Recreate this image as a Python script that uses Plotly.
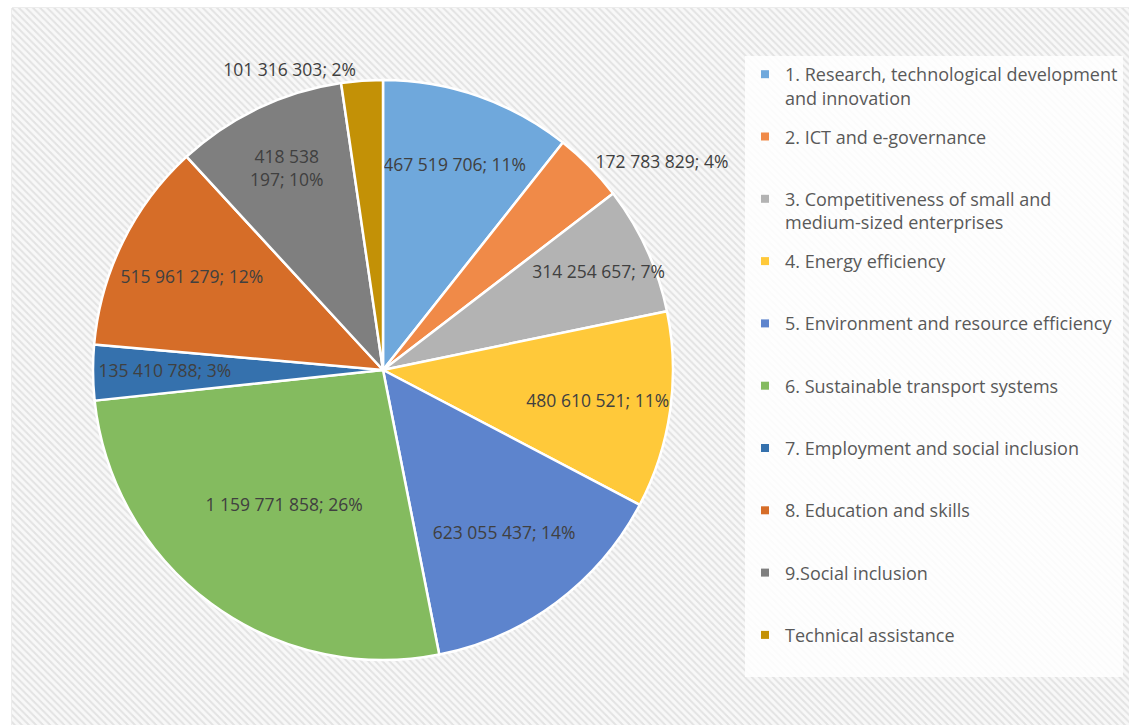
import plotly.graph_objects as go

# Allocation by thematic objective (EUR)
categories = [
    "1. Research, technological development<br>and innovation",
    "2. ICT and e-governance",
    "3. Competitiveness of small and<br>medium-sized enterprises",
    "4. Energy efficiency",
    "5. Environment and resource efficiency",
    "6. Sustainable transport systems",
    "7. Employment and social inclusion",
    "8. Education and skills",
    "9.Social inclusion",
    "Technical assistance",
]
amounts = [
    467519706,
    172783829,
    314254657,
    480610521,
    623055437,
    1159771858,
    135410788,
    515961279,
    418538197,
    101316303,
]
slice_colors = [
    "#6fa8dc", "#f08a48", "#b3b3b3", "#ffc93a", "#5d84cd",
    "#84bb5f", "#3571ad", "#d66d28", "#7f7f7f", "#c39106",
]
label_positions = [
    "inside", "outside", "inside", "inside", "inside",
    "inside", "inside", "inside", "inside", "outside",
]
# labels that break onto a second line after the given group count
label_breaks = {8: 2}

total = sum(amounts)


def fmt_label(i, v):
    groups = f"{v:,}".split(",")
    pct = round(v / total * 100)
    if i in label_breaks:
        k = label_breaks[i]
        return " ".join(groups[:k]) + "<br>" + " ".join(groups[k:]) + f"; {pct}%"
    return " ".join(groups) + f"; {pct}%"


slice_text = [fmt_label(i, v) for i, v in enumerate(amounts)]


def legend_name(c):
    # two-line entries keep the legend rows evenly spaced
    return c if "<br>" in c else c + "<br> "


W, H = 1129, 725
cx, cy, r = 383, 370, 290
FONT = "Open Sans"

fig = go.Figure()

# hatched chart-area background
fig.add_trace(go.Scatter(
    x=[0, 1, 1, 0, 0], y=[0, 0, 1, 1, 0],
    mode="lines", fill="toself",
    line=dict(width=0, color="rgba(0,0,0,0)"),
    fillcolor="#ffffff",
    fillpattern=dict(shape="\\", fgcolor="#cdcdcd", bgcolor="#f8f8f8",
                     size=5, solidity=0.4),
    hoverinfo="skip", showlegend=False,
))

fig.add_trace(go.Pie(
    labels=categories,
    values=amounts,
    text=slice_text,
    textinfo="text",
    textposition=label_positions,
    insidetextorientation="horizontal",
    sort=False,
    direction="clockwise",
    rotation=0,
    marker=dict(colors=slice_colors, line=dict(color="#ffffff", width=2.5)),
    textfont=dict(family=FONT, size=17.5, color="#404040"),
    domain=dict(x=[(cx - r) / W, (cx + r) / W],
                y=[(H - cy - r) / H, (H - cy + r) / H]),
    hoverinfo="label+value+percent",
    showlegend=False,
))

# legend keys, one per slice, in slice order
for i, (name, col) in enumerate(zip(categories, slice_colors)):
    fig.add_trace(go.Scatter(
        x=[None], y=[None], mode="markers",
        name=legend_name(name),
        legendgroup=f"g{i}",
        marker=dict(symbol="square", size=8, color=col),
        hoverinfo="skip",
    ))

fig.update_layout(
    width=W, height=H,
    margin=dict(l=0, r=0, t=0, b=0),
    paper_bgcolor="#ffffff",
    plot_bgcolor="rgba(0,0,0,0)",
    xaxis=dict(domain=[12 / W, 1], range=[0, 1], visible=False, fixedrange=True),
    yaxis=dict(domain=[0, 1 - 8 / H], range=[0, 1], visible=False, fixedrange=True),
    uniformtext=dict(minsize=17.5, mode="show"),
    legend=dict(
        x=745 / W, y=1 - 56 / H, xanchor="left", yanchor="top",
        bgcolor="rgba(255,255,255,0.85)",
        font=dict(family=FONT, size=18, color="#595959"),
        valign="top",
        traceorder="grouped",
        tracegroupgap=12.5,
        itemwidth=30,
        itemclick=False, itemdoubleclick=False,
    ),
    shapes=[dict(type="rect", xref="paper", yref="paper",
                 x0=12 / W, x1=1.01, y0=-0.01, y1=1 - 8 / H,
                 line=dict(color="#d9d9d9", width=1), fillcolor="rgba(0,0,0,0)",
                 layer="below")],
)

fig.write_html("out.html")
